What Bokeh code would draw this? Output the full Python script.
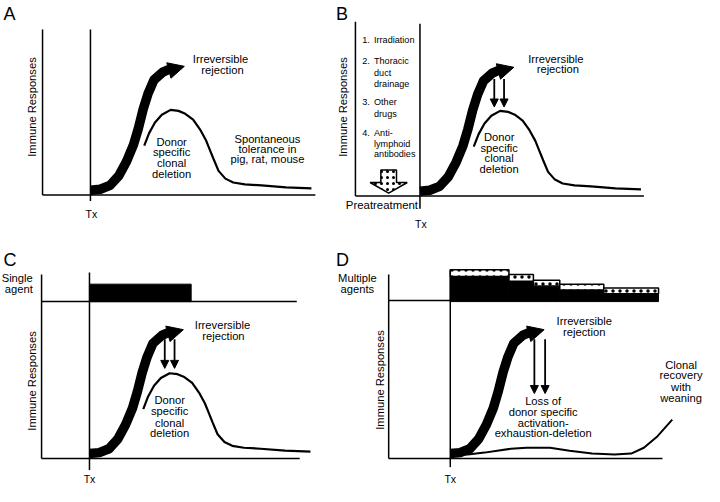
import math
from bokeh.plotting import figure
from bokeh.models import Range1d, Arrow, NormalHead, ColumnDataSource
from bokeh.core.properties import value
from bokeh.embed import file_html
from bokeh.resources import INLINE

FONT = "Liberation Sans"

# ---- shared curve shapes (time after Tx, response height) ----
band_t = [0, 10, 20, 29, 37, 44, 49, 54, 59, 65, 74, 83]
band_r = [5, 6, 10, 20, 35, 52, 69, 89, 105, 119, 127, 131]
band_tip = (96, 133)

bell_t = [55, 60, 66, 73, 82, 90, 97, 105, 112, 118, 122, 126, 131, 138, 146, 158, 175, 200, 226]
bell_r = [51, 64, 75, 83, 88, 87, 84, 78, 68, 57, 47, 37, 25, 17, 13, 11, 10, 8, 7]

# panel D low curve (multiple agents)
dlow_t = [13, 18, 35, 62, 78, 102, 122, 145, 168, 185, 198, 212, 227]
dlow_r = [4, 4, 6, 10, 11, 11, 8, 5, 4, 5, 11, 23, 40]

# panel D agent steps
step_edges = [0, 60, 85, 112, 157, 213]
agent_black = [26, 21, 16, 12, 8]
agent_total = [33, 28, 22, 18, 14]
# panel C single agent
single_edges = [0, 104]
single_height = 18

# panel origins (Tx x position, baseline y)
origins = {"A": (92, 201), "B": (429, 202), "C": (91, 473), "D": (460, 473)}

p = figure(width=704, height=486, x_range=Range1d(0, 720), y_range=Range1d(502, 0),
           output_backend="svg", toolbar_location=None, min_border=0,
           x_axis_type=None, y_axis_type=None)
p.grid.visible = False
p.outline_line_color = None
p.background_fill_color = "white"


def X(panel, t):
    return [origins[panel][0] + v for v in t]


def Y(panel, r):
    return [origins[panel][1] - v for v in r]


def texts(xs, ys, labels, size="11.2px", align="center", angle=0.0, style="normal"):
    src = ColumnDataSource(dict(x=xs, y=ys, text=labels))
    p.text("x", "y", text="text", source=src, text_font=value(FONT),
           text_font_size=value(size), text_align=align, text_baseline="middle",
           angle=angle, text_color="black", text_font_style=style)


def band(panel):
    xs = X(panel, band_t)
    ys = Y(panel, band_r)
    p.line(xs, ys, line_width=9.5, line_color="black", line_join="round", line_cap="butt")
    tx, ty = X(panel, [band_tip[0]])[0], Y(panel, [band_tip[1]])[0]
    p.add_layout(Arrow(end=NormalHead(size=16, fill_color="black", line_color="black"),
                       x_start=xs[-2], y_start=ys[-2], x_end=tx, y_end=ty,
                       line_alpha=0))


def down_arrows(panel, ts, r0, r1):
    for t in ts:
        x = X(panel, [t])[0]
        p.add_layout(Arrow(end=NormalHead(size=8, fill_color="black", line_color="black"),
                           x_start=x, y_start=Y(panel, [r0])[0], x_end=x, y_end=Y(panel, [r1])[0],
                           line_width=1.8, line_color="black"))


LW = 1.5
# ---------------- Panel A ----------------
p.segment(x0=[43, 92, 43], y0=[30, 30, 201], x1=[43, 92, 322], y1=[201, 207, 201],
          line_color="black", line_width=LW)
p.line(X("A", bell_t), Y("A", bell_r), line_width=2.2, line_color="black")
band("A")

# ---------------- Panel B ----------------
p.segment(x0=[363, 429, 363], y0=[22, 24, 202], x1=[363, 429, 658], y1=[202, 215, 202],
          line_color="black", line_width=LW)
p.line(X("B", bell_t), Y("B", bell_r), line_width=2.2, line_color="black")
band("B")
down_arrows("B", [76, 86], 121, 92)
# hollow pretreatment arrow
cx, top = 397, 175
arr_x = [cx - 8, cx + 8, cx + 8, cx + 19, cx, cx - 19, cx - 8]
arr_y = [top, top, top + 13, top + 13, top + 24, top + 13, top + 13]
p.patch(arr_x, arr_y, fill_color="white", line_color="black", line_width=1.5,
        hatch_pattern="dot", hatch_color="black", hatch_scale=6, hatch_weight=1)

# ---------------- Panel C ----------------
p.segment(x0=[42, 91, 42, 42], y0=[283, 281, 311, 473], x1=[42, 91, 303, 306], y1=[473, 485, 311, 473],
          line_color="black", line_width=LW)
p.quad(left=X("C", [single_edges[0]]), right=X("C", [single_edges[1]]),
       bottom=[311], top=[311 - single_height], fill_color="black", line_color="black")
p.line(X("C", bell_t), Y("C", bell_r), line_width=2.2, line_color="black")
band("C")
down_arrows("C", [77, 87], 123, 93)

# ---------------- Panel D ----------------
p.segment(x0=[397, 460, 397, 397], y0=[283, 278, 310, 473], x1=[397, 460, 460, 677], y1=[473, 482, 310, 473],
          line_color="black", line_width=LW)
lefts = X("D", step_edges[:-1])
rights = X("D", step_edges[1:])
p.quad(left=lefts, right=rights, bottom=[311] * 5, top=[311 - h for h in agent_black],
       fill_color="black", line_color="black", line_width=1)
p.quad(left=lefts, right=rights, bottom=[311 - h for h in agent_black],
       top=[311 - h for h in agent_total], fill_color="white", line_color="black",
       line_width=1.5, hatch_pattern="dot", hatch_color="black", hatch_scale=7, hatch_weight=1)
p.line(X("D", dlow_t), Y("D", dlow_r), line_width=2.0, line_color="black")
band("D")
down_arrows("D", [86, 97], 123, 67)

# ---------------- Texts ----------------
texts([3, 343, 3, 343], [14, 14, 268, 268], ["A", "B", "C", "D"], size="18px", align="left")
texts([32, 350, 32, 388], [110, 110, 393, 392], ["Immune Responses"] * 4, angle=math.pi / 2)
texts([93, 430, 91, 460], [221, 231, 494, 494], ["Tx"] * 4, size="10.5px")

texts([225, 227, 568, 570, 227, 228, 597, 597], [60, 72, 60, 71, 335, 347, 331, 342],
      ["Irreversible", "rejection"] * 4)
dsc = ["Donor", "specific", "clonal", "deletion"]
texts([175] * 4 + [510] * 4 + [173] * 4,
      [146, 157, 168, 179, 141, 152, 163, 174, 413, 424, 436, 447], dsc * 3)
texts([273] * 3, [143, 153, 164], ["Spontaneous", "tolerance in", "pig, rat, mouse"])
texts([555] * 4, [414, 425, 436, 447],
      ["Loss of", "donor specific", "activation-", "exhaustion-deletion"])
texts([696] * 4, [376, 387, 399, 411], ["Clonal", "recovery", "with", "weaning"])

texts([33, 33], [287, 298], ["Single", "agent"], align="right")
texts([365, 365], [287, 298], ["Multiple", "agents"])

texts([370] * 4, [41, 63, 105, 137], ["1.", "2.", "3.", "4."], size="9.1px", align="left")
texts([382] * 9, [41, 63, 75, 86, 105, 117, 137, 148, 159],
      ["Irradiation", "Thoracic", "duct", "drainage", "Other", "drugs", "Anti-",
       "lymphoid", "antibodies"], size="9.1px", align="left")
texts([427], [211], ["Preatreatment"], size="11.4px", align="right")

open("out.html", "w").write(file_html(p, INLINE))
